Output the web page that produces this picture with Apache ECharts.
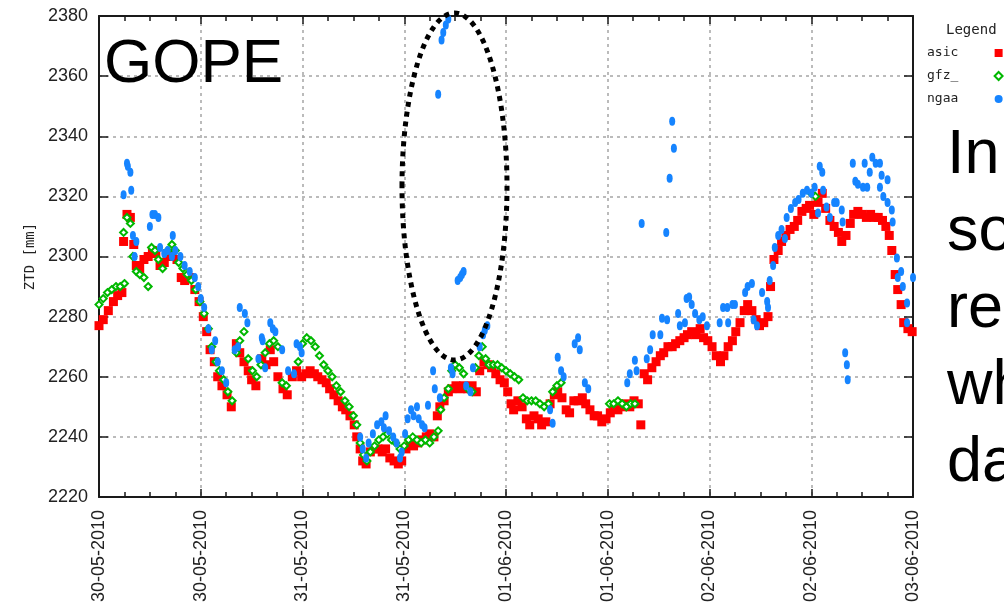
<!DOCTYPE html>
<html>
<head>
<meta charset="utf-8">
<script src="https://cdn.jsdelivr.net/npm/echarts@6/dist/echarts.min.js"></script>
<style>
html,body{margin:0;padding:0;background:#fff;}
#chart{width:1004px;height:613px;}
</style>
</head>
<body>
<div id="chart"></div>
<script>
// x values are hours since 30-05-2010 00:00; y values are ZTD in mm
const xTickLabels = ['30-05-2010','30-05-2010','31-05-2010','31-05-2010','01-06-2010','01-06-2010','02-06-2010','02-06-2010','03-06-2010'];
const seriesNames = ['asic','gfz_','ngaa'];

const asic = [
[0,2277],[0.5,2279],[1.1,2282],[1.7,2285],[2.2,2287],[2.7,2288],[2.9,2305],[3.3,2314],[3.7,2313],[4.1,2304],
[4.4,2297],[4.8,2296],[5.3,2299],[5.8,2300],[6.3,2302],[6.7,2301],[7.2,2297],[7.7,2298],[8.1,2301],[8.6,2300],
[9.2,2299],[9.7,2293],[10.1,2292],[10.7,2293],[11.3,2289],[11.8,2285],[12.3,2280],[12.7,2275],[13.1,2269],[13.6,2265],
[14.0,2260],[14.5,2257],[15.1,2254],[15.6,2250],[16.2,2271],[16.6,2268],[17.1,2265],[17.6,2262],[18.0,2259],[18.5,2257],
[19.2,2266],[19.7,2264],[20.2,2269],[20.6,2265],[21.1,2260],[21.7,2256],[22.2,2254],[22.8,2260],[23.3,2262],[23.9,2260],
[24.4,2261],[24.9,2262],[25.4,2261],[25.8,2260],[26.3,2259],[26.8,2258],[27.2,2256],[27.7,2254],[28.2,2252],[28.7,2250],
[29.1,2249],[29.6,2247],[30.1,2244],[30.4,2240],[30.8,2236],[31.1,2232],[31.5,2231],[32.0,2235],[32.4,2236],[32.9,2236],
[33.4,2235],[33.8,2236],[34.3,2233],[34.8,2232],[35.3,2231],[35.7,2232],[36.2,2236],[36.7,2238],[37.1,2237],[37.6,2238],
[38.1,2239],[38.6,2240],[39.0,2241],[39.5,2240],[39.9,2247],[40.2,2250],[40.7,2252],[41.2,2255],[41.6,2256],[42.1,2257],
[42.6,2256],[43.0,2257],[43.5,2256],[44.0,2257],[44.5,2255],[44.9,2262],[45.4,2265],[45.9,2264],[46.3,2263],[46.8,2261],
[47.3,2259],[47.8,2258],[48.2,2255],[48.6,2251],[48.9,2249],[49.4,2252],[49.9,2250],[50.4,2246],[50.8,2244],[51.3,2247],
[51.8,2246],[52.2,2244],[52.7,2245],[53.2,2251],[53.7,2254],[54.1,2255],[54.6,2253],[55.1,2249],[55.5,2248],[56.0,2252],
[56.5,2252],[57.0,2253],[57.4,2251],[57.9,2249],[58.4,2247],[58.8,2247],[59.3,2245],[59.8,2246],[60.3,2248],[60.7,2250],
[61.2,2249],[61.7,2250],[62.1,2251],[62.6,2250],[63.1,2252],[63.6,2251],[63.9,2244],[64.3,2261],[64.7,2259],[65.2,2263],
[65.7,2265],[66.2,2267],[66.6,2268],[67.1,2270],[67.6,2270],[68.0,2271],[68.5,2272],[69.0,2273],[69.4,2274],[69.9,2275],
[70.4,2274],[70.9,2276],[71.3,2273],[71.8,2272],[72.3,2270],[72.8,2267],[73.3,2265],[73.7,2267],[74.2,2270],[74.7,2272],
[75.1,2275],[75.6,2278],[76.1,2282],[76.5,2284],[77.0,2282],[77.5,2279],[77.9,2277],[78.4,2278],[78.9,2280],[79.2,2290],
[79.6,2299],[80.1,2302],[80.5,2305],[81.0,2307],[81.5,2309],[82.0,2310],[82.4,2312],[82.9,2315],[83.4,2316],[83.8,2317],
[84.3,2314],[84.8,2318],[85.3,2321],[85.7,2316],[86.2,2312],[86.7,2310],[87.2,2308],[87.6,2305],[88.1,2307],[88.6,2311],
[89.0,2314],[89.5,2315],[90.0,2314],[90.5,2313],[91.0,2314],[91.4,2313],[91.9,2313],[92.4,2312],[92.8,2310],[93.2,2307],
[93.5,2302],[93.9,2294],[94.2,2289],[94.6,2284],[94.9,2278],[95.4,2276],[95.9,2275]
];

const gfz = [
[0,2284],[0.5,2286],[1.0,2288],[1.5,2289],[2.0,2290],[2.5,2290],[3.0,2291],[2.9,2308],[3.3,2313],[3.7,2311],
[4.0,2300],[4.4,2295],[4.8,2294],[5.3,2293],[5.8,2290],[6.2,2303],[6.6,2302],[7.0,2299],[7.5,2296],[8.1,2302],
[8.6,2304],[9.0,2302],[9.4,2298],[9.9,2296],[10.4,2294],[10.9,2292],[11.4,2289],[11.9,2285],[12.4,2281],[12.9,2276],
[13.3,2270],[13.8,2265],[14.2,2262],[14.7,2259],[15.2,2255],[15.7,2252],[16.2,2268],[16.6,2272],[17.1,2275],[17.6,2266],
[18.1,2262],[18.6,2260],[19.1,2264],[19.6,2268],[20.1,2271],[20.6,2272],[21.1,2270],[21.6,2258],[22.1,2257],[23.5,2265],
[24.0,2271],[24.5,2273],[25.0,2272],[25.5,2270],[26.0,2267],[26.5,2264],[27.0,2262],[27.5,2260],[28.0,2257],[28.5,2255],
[29.0,2252],[29.5,2250],[30.0,2247],[30.4,2244],[30.8,2238],[31.2,2234],[31.6,2232],[32.0,2235],[32.5,2237],[33.0,2239],
[33.5,2240],[34.0,2241],[34.5,2239],[35.0,2238],[35.5,2236],[36.0,2237],[36.5,2239],[37.0,2240],[37.5,2239],[38.0,2238],
[38.5,2239],[39.0,2238],[39.5,2240],[40.0,2242],[40.3,2249],[40.7,2253],[41.2,2256],[41.6,2262],[42.0,2264],[42.5,2263],
[43.0,2261],[43.5,2256],[44.0,2255],[44.4,2263],[44.8,2267],[45.2,2270],[45.6,2266],[46.0,2264],[46.5,2264],[47.0,2264],
[47.5,2263],[48.0,2262],[48.5,2261],[49.0,2260],[49.5,2259],[50.0,2253],[50.5,2252],[51.0,2252],[51.5,2252],[52.0,2251],
[52.5,2250],[53.0,2251],[53.5,2255],[54.0,2257],[54.5,2258],[60.2,2251],[60.7,2251],[61.2,2252],[61.7,2251],[62.2,2250],
[62.7,2251],[63.2,2251],[84.0,2321],[84.5,2320]
];

const ngaa = [
[2.9,2320.5],[3.3,2331],[3.4,2330],[3.7,2328],[3.8,2322],[4.0,2307],[4.4,2305],[4.2,2300],[6.0,2310],[6.3,2314],
[6.6,2314],[7.0,2313],[7.2,2303],[7.7,2301],[8.1,2302],[8.6,2300],[8.7,2307],[9.0,2302],[9.6,2300],[10.1,2297],
[10.7,2295],[11.3,2293],[11.7,2290],[12.0,2286],[12.4,2283],[12.9,2276],[13.3,2269],[13.7,2272],[14.0,2265],[14.5,2262],
[15.0,2258],[16.0,2269],[16.4,2270],[16.6,2283],[17.2,2281],[17.5,2278],[18.8,2266],[19.2,2273],[19.3,2272],[19.6,2263],
[20.2,2278],[20.5,2276],[20.8,2275],[21.6,2269],[22.3,2262],[23.0,2261],[23.3,2271],[23.7,2270],[23.9,2268],
[30.8,2240],[31.1,2236],[31.5,2233],[31.8,2238],[32.3,2241],[32.8,2244],[33.3,2245],[33.8,2247],[33.6,2243],[34.2,2242],
[34.7,2240],[35.1,2238],[35.5,2233],[35.7,2235],[36.1,2241],[36.4,2246],[36.8,2249],[37.1,2247],[37.5,2250],[37.7,2246],
[38.1,2244],[38.4,2243],[38.8,2250.5],[39.4,2262],[39.6,2256],[40.0,2354],[40.2,2253],[40.4,2372],[40.6,2374.5],[40.9,2377],
[41.2,2379],[41.5,2263],[41.7,2261],[42.3,2292],[42.6,2293],[42.8,2294],[43.0,2295],[43.3,2257],[43.8,2255],[44.1,2263],
[44.9,2270],[45.3,2274],[45.5,2275.5],[45.8,2277],
[53.2,2249],[53.5,2244.5],[54.1,2266.5],[54.5,2262],[54.8,2260],[56.1,2271],[56.5,2273],[56.7,2269],[57.3,2258],[57.7,2256],
[62.3,2258],[62.6,2261],[63.2,2265.5],[63.4,2262],[64.0,2311],[64.6,2266],[65.0,2269],[65.3,2274],[66.2,2274],[66.4,2279.5],
[67.0,2279],[66.9,2308],[67.3,2326],[67.6,2345],[67.8,2336],[68.3,2281],[68.5,2277],[69.1,2278],[69.3,2286],[69.6,2286.5],
[69.9,2284],[70.3,2281],[70.8,2279],[71.2,2280],[71.7,2277],[73.2,2278],[73.6,2283],[74.1,2283],[74.2,2278],[74.7,2284],
[75.0,2284],[76.2,2288],[76.5,2290],[77.0,2291],[77.2,2279],[77.6,2277],[78.2,2288],[78.8,2285],[78.9,2283],[79.1,2292],
[79.5,2297],[79.7,2303],[80.1,2307],[80.5,2309],[80.9,2306],[81.1,2313],[81.6,2316],[82.1,2318],[82.5,2319],[83.0,2321],
[83.5,2322],[84.0,2321],[84.4,2323],[84.8,2314.5],[85.0,2330],[85.3,2328],[85.4,2322],[85.8,2316.5],[86.2,2313],[86.7,2318],
[87.0,2318],[87.6,2315.5],[87.7,2311.5],[88.0,2268],[88.2,2264],[88.3,2259],[88.9,2331],[89.2,2325],[89.5,2324],[90.1,2323],
[90.3,2331],[90.6,2323],[90.9,2328],[91.2,2333],[91.6,2331],[92.1,2331],[92.1,2323],[92.3,2327],[92.5,2320],[93.0,2325.5],
[93.0,2318],[93.5,2315.5],[93.6,2311.5],[94.1,2299.5],[94.2,2293],[94.6,2295],[94.8,2290],[95.3,2284.5],[95.3,2278],[96,2293]
];

const rightTextLines = ['In','so','re','wh','da'];

const chart = echarts.init(document.getElementById('chart'), null, {renderer:'canvas'});
const labelFont = 'Liberation Sans';
const monoFont = 'DejaVu Sans Mono';
const axisLineStyle = {color:'#1a1a1a', width:2};
const gridLine = {show:true, lineStyle:{color:'#a5a5a5', width:1.5, type:[3,4]}};

const graphics = [
  {type:'text', z:100, style:{x:104, y:64.5, text:'GOPE', font:'62px "Liberation Sans"', fill:'#000', verticalAlign:'middle'}},
  {type:'text', z:100, style:{x:946, y:30, text:'Legend', font:'14px "DejaVu Sans Mono"', fill:'#222', verticalAlign:'middle'}},
  {type:'ellipse', z:100, shape:{cx:454.5, cy:186.5, rx:52.5, ry:173.5}, style:{fill:'none', stroke:'#000', lineWidth:5, lineDash:[5,5]}}
];
rightTextLines.forEach(function(s, i){
  graphics.push({type:'text', z:100, style:{x:947, y:156 + i*77, text:s, font:'63px "Liberation Sans"', fill:'#000', verticalAlign:'middle'}});
});

chart.setOption({
  animation:false,
  backgroundColor:'#fff',
  grid:{left:99, top:16, right:91, bottom:116, show:false},
  legend:{
    orient:'vertical', left:922, top:41, align:'right',
    itemWidth:8, itemHeight:8, itemGap:9,
    formatter:function(n){ return n.padEnd(8,' '); },
    textStyle:{fontFamily:monoFont, fontSize:13, color:'#222', lineHeight:14},
    data:seriesNames
  },
  xAxis:[
    {type:'value', min:0, max:96, interval:12, position:'bottom',
     axisLine:{show:true, onZero:false, lineStyle:axisLineStyle},
     axisTick:{show:true, inside:true, length:8, lineStyle:{color:'#1a1a1a', width:1.5}},
     minorTick:{show:true, splitNumber:4, length:5, lineStyle:{color:'#1a1a1a', width:1.5}},
     splitLine:gridLine,
     axisLabel:{rotate:90, margin:13, fontFamily:labelFont, fontSize:18, color:'#222',
       formatter:function(v){ return xTickLabels[Math.round(v/12)]; }}},
    {type:'value', min:0, max:96, interval:12, position:'top',
     axisLine:{show:true, onZero:false, lineStyle:axisLineStyle},
     axisTick:{show:true, inside:true, length:8, lineStyle:{color:'#1a1a1a', width:1.5}},
     minorTick:{show:true, splitNumber:4, length:5, lineStyle:{color:'#1a1a1a', width:1.5}},
     splitLine:{show:false}, axisLabel:{show:false}}
  ],
  yAxis:[
    {type:'value', min:2220, max:2380, interval:20, position:'left',
     name:'ZTD [mm]', nameLocation:'middle', nameGap:58, nameRotate:90,
     nameTextStyle:{fontFamily:monoFont, fontSize:14, color:'#222'},
     axisLine:{show:true, onZero:false, lineStyle:axisLineStyle},
     axisTick:{show:true, inside:true, length:9, lineStyle:{color:'#1a1a1a', width:1.5}},
     splitLine:gridLine,
     axisLabel:{margin:11, fontFamily:labelFont, fontSize:18, color:'#222',
       formatter:function(v){ return String(v); }}},
    {type:'value', min:2220, max:2380, interval:20, position:'right',
     axisLine:{show:true, onZero:false, lineStyle:axisLineStyle},
     axisTick:{show:true, inside:true, length:9, lineStyle:{color:'#1a1a1a', width:1.5}},
     splitLine:{show:false}, axisLabel:{show:false}}
  ],
  series:[
    {name:seriesNames[0], type:'scatter', data:asic, symbol:'rect', symbolSize:9,
     itemStyle:{color:'#ff0000', opacity:1}, z:2},
    {name:seriesNames[1], type:'scatter', data:gfz, symbol:'emptyDiamond', symbolSize:7,
     itemStyle:{color:'#00b800', borderColor:'#00b800', borderWidth:2.2, opacity:1}, z:3},
    {name:seriesNames[2], type:'scatter', data:ngaa, symbol:'circle', symbolSize:[6,9],
     itemStyle:{color:'#1684ff', opacity:1}, z:4}
  ],
  graphic:graphics
});
</script>
</body>
</html>
